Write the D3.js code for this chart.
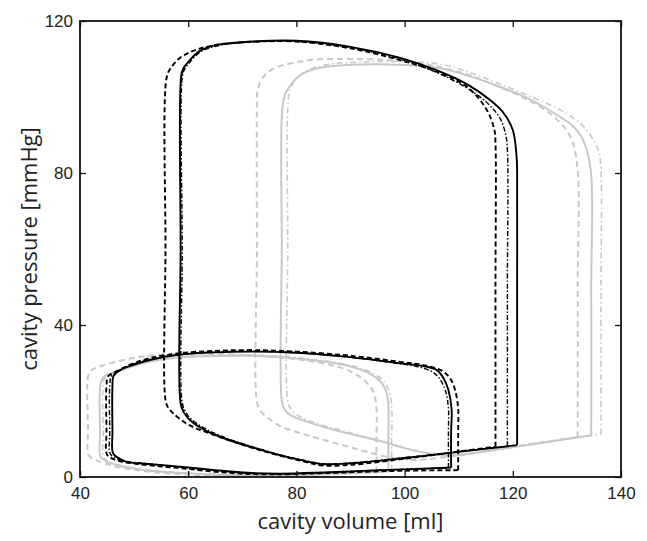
<!DOCTYPE html>
<html>
<head>
<meta charset="utf-8">
<script src="https://cdn.jsdelivr.net/npm/d3@7"></script>
<style>
  body { margin: 0; background: #fff; }
  .tick text { font-family: "Liberation Sans", Arial, sans-serif; font-size: 17px; fill: #222; }
  .title { font-family: "Open Sans", sans-serif; font-size: 22px; fill: #222; }
</style>
</head>
<body>
<svg id="chart" width="647" height="541"></svg>
<script>
// axis ticks
var xTicks = [40, 60, 80, 100, 120, 140];
var yTicks = [0, 40, 80, 120];

// pressure-volume loops, [volume ml, pressure mmHg]
// left ventricle (high pressure)
var lvBlackSolid = [[120.8,8.4],[120.8,50],[120.8,80],[120.7,84.3],[120,91.3],[118.3,95.8],[115.8,99.2],[111.5,103.4],[106,107],[99.2,110.3],[90,113.2],[80,114.8],[72,114.6],[65.3,113.7],[62,112],[60.3,109.7],[59.1,107.5],[58.7,105.5],[58.6,60],[58.6,19.4],[59.2,17],[60.3,15],[63,12.4],[67,10],[71.4,8],[76,6.1],[80.7,4.5],[84.9,3.4],[90,3.6],[100,5],[110,6.6],[120.8,8.4]];
var lvBlackDash = [[116.8,8],[116.8,50],[116.8,88],[116.6,91.3],[115.2,96.6],[111.5,102.7],[106,106.6],[99.2,109.7],[90,112.8],[80,114.6],[73,114.6],[68.3,114.2],[64,113.4],[61,112.2],[58.5,110.3],[56.7,107.5],[56,105],[55.8,60],[55.8,20.3],[56.3,18.2],[57.2,16.8],[60,13.8],[65.3,10.8],[72,7.6],[80.7,4.3],[85,3],[90,3.2],[100,4.8],[110,6.7],[116.8,8]];
var lvBlackDot = [[119,8.1],[119,50],[119,86],[118.7,90],[117.6,94.5],[115,98.8],[111,102.8],[106,106.4],[99.2,109.9],[90,113],[80,114.6],[72,114.5],[65.5,113.5],[62.2,111.8],[60.5,109.5],[59.3,107.2],[58.9,105.2],[58.9,60],[58.9,19.6],[59.5,17.2],[60.6,15.2],[63.3,12.6],[67.3,10.1],[71.6,8.1],[76,6.2],[80.7,4.6],[85,3.5],[90,3.7],[100,5.1],[110,6.7],[119,8.1]];
var lvGraySolid = [[134.5,11],[134.5,50],[134.4,80.8],[133,88.7],[131,92.5],[128.7,94.8],[123,99.5],[117.6,102.7],[112,105.5],[107,107.4],[100,108.4],[90,108.5],[83.7,107.5],[81,106],[79.4,104],[78,101],[77.4,97],[77.3,60],[77.3,20.1],[77.8,17.8],[79,16.2],[82.5,14.3],[88,12],[95.5,9.5],[100,7.6],[104,6.3],[108,5.6],[115,6.8],[125,8.9],[134.5,11]];
var lvGrayDash = [[132,10.5],[132,50],[131.9,82],[130.5,90],[127,95.5],[122,99.8],[116,103.5],[111.5,106],[105,108.3],[98,109.6],[90,110],[83,109.8],[77.6,108.4],[75,106.8],[73.5,104.5],[72.8,101.5],[72.7,97],[72.7,60],[72.7,19.8],[73.3,17.5],[74.8,15.5],[77,13.4],[82,11],[88,8.6],[94.2,6.2],[98,5],[102,4.5],[110,5.7],[120,7.9],[132,10.5]];
var lvGrayDot = [[136.3,11.3],[136.3,50],[136.3,81],[135.9,85.5],[134.9,88.7],[132.5,93],[128.5,96.8],[123.8,99.8],[117,103.8],[112,106.5],[107.1,108.5],[100,109.3],[92,109.2],[86,108.6],[82,107],[80,104.9],[78.8,101.8],[78.4,97],[78.4,60],[78.4,20],[79,17.8],[80.5,16],[84,14],[90,11.6],[97,8.8],[102,7],[107,5.9],[112,6.2],[124,8.8],[136.3,11.3]];
// right ventricle (low pressure)
var rvBlackSolid = [[108.6,2.5],[108.6,12],[108.7,17.6],[108.1,22.9],[107.2,26],[105.9,28.2],[103,29.3],[99.2,29.9],[95.5,30.6],[88,31.8],[80,32.7],[72,33],[65,32.8],[58.5,32.2],[53.5,31],[49.9,29.5],[47.5,28.2],[46.2,26.6],[46,24],[46,12],[46.1,6.3],[47,5.1],[48.6,4],[52,3.5],[57.9,2.8],[65,1.8],[71,1.1],[77,0.9],[85,1.2],[95.5,1.8],[102,2.1],[108.6,2.5]];
var rvBlackDash = [[109.9,1.8],[109.9,12],[109.9,18],[109.4,22.5],[108.5,25.8],[107,27.9],[104,29.3],[99.2,30.3],[90,31.9],[80,33],[72,33.4],[65,33.2],[58.5,32.6],[53,31.3],[49.5,29.7],[47,28],[45.2,26.5],[44.9,24],[44.9,12],[45,5.9],[46.2,4.7],[48.6,3.8],[52,3.2],[58,2.4],[65,1.4],[71,0.8],[77,0.7],[85,1],[95.5,1.5],[102,1.7],[109.9,1.8]];
var rvBlackDot = [[108.1,2.4],[108.1,12],[108.1,18],[107.6,22.5],[106.6,25.6],[105.2,27.6],[102.5,29],[99.2,29.8],[90,31.5],[80,32.7],[72,33.1],[65,32.9],[58.5,32.3],[53.3,31.1],[49.7,29.6],[47.2,28],[45.8,26.5],[45.5,24],[45.5,12],[45.6,6.1],[46.7,4.9],[48.6,4.1],[52,3.6],[58,2.7],[65,1.7],[71,1],[77,0.8],[85,1.1],[95.5,1.8],[102,2.1],[108.1,2.4]];
var rvGraySolid = [[97,1.5],[97,10],[97,19],[96.6,22.5],[95.5,25.2],[93.5,27.3],[90,29.1],[85,30.4],[77,31.6],[70,31.9],[63,31.8],[58.5,31.5],[53.5,30.5],[49.5,29],[46.5,27.5],[44.4,26.4],[43.8,24.5],[43.7,12],[43.8,5.3],[44.8,4.2],[47,3.1],[51.6,1.9],[58,1.1],[65,0.6],[72,0.4],[80,0.5],[88,0.9],[97,1.5]];
var rvGrayDash = [[94.8,1.2],[94.8,10],[94.8,18],[94.2,22.5],[92.5,25.5],[90,27.8],[86,29.6],[80,31],[72,32],[64,32.4],[56,32.3],[50.5,31.5],[46.8,30.4],[43.5,29],[42,28],[41.5,26.5],[41.5,12],[41.6,5.8],[43,4.4],[46,3],[50,1.9],[56,1],[63,0.5],[72,0.3],[80,0.5],[88,0.8],[94.8,1.2]];
var rvGrayDot = [[97.6,1.6],[97.6,10],[97.6,19],[97.1,22.8],[96,25.4],[94,27.4],[90.5,29.2],[85,30.6],[77,31.8],[70,32.1],[63,32],[58.5,31.7],[53.5,30.7],[49.5,29.2],[46.8,27.8],[44.8,26.6],[44.3,24.5],[44.3,12],[44.4,5.1],[45.4,4],[47.5,3],[52,1.9],[58,1.2],[65,0.7],[72,0.5],[80,0.6],[88,1],[97.6,1.6]];

var grayColor = "#c8c8c8";
var blackColor = "#000";

var loops = [
	{pts: lvGraySolid, color: grayColor, dash: null, w: 2},
	{pts: lvGrayDash, color: grayColor, dash: "6,4", w: 2},
	{pts: lvGrayDot, color: grayColor, dash: "6,3,1.5,3", w: 1.6},
	{pts: rvGraySolid, color: grayColor, dash: null, w: 2},
	{pts: rvGrayDash, color: grayColor, dash: "6,4", w: 2},
	{pts: rvGrayDot, color: grayColor, dash: "6,3,1.5,3", w: 1.6},
	{pts: lvBlackDot, color: blackColor, dash: "5,2,1.5,2", w: 1.4},
	{pts: lvBlackDash, color: blackColor, dash: "5,3", w: 1.9},
	{pts: lvBlackSolid, color: blackColor, dash: null, w: 1.9},
	{pts: rvBlackDot, color: blackColor, dash: "5,2,1.5,2", w: 1.4},
	{pts: rvBlackDash, color: blackColor, dash: "5,3", w: 1.9},
	{pts: rvBlackSolid, color: blackColor, dash: null, w: 1.9}
];

var plotLeft = 80, plotTop = 21, plotRight = 621, plotBottom = 477;
var svg = d3.select("#chart");

var x = d3.scaleLinear().domain([40, 140]).range([plotLeft, plotRight]);
var y = d3.scaleLinear().domain([0, 120]).range([plotBottom, plotTop]);

var line = d3.line()
	.x(function(d) { return x(d[0]); })
	.y(function(d) { return y(d[1]); })
	.curve(d3.curveCatmullRom.alpha(0.5));

svg.append("g").attr("class", "loops")
	.selectAll("path")
	.data(loops)
	.enter().append("path")
	.attr("d", function(d) { return line(d.pts); })
	.style("fill", "none")
	.style("stroke", function(d) { return d.color; })
	.style("stroke-width", function(d) { return d.w; })
	.style("stroke-dasharray", function(d) { return d.dash; })
	.style("stroke-linejoin", "round");

/* ------- AXES -------*/
var tickLen = 6;

svg.append("g")
	.attr("transform", "translate(0," + plotBottom + ")")
	.call(d3.axisBottom(x).tickValues(xTicks).tickSize(-tickLen).tickPadding(10))
	.call(function(g) { g.select(".domain").remove(); });

svg.append("g")
	.attr("transform", "translate(0," + plotTop + ")")
	.call(d3.axisTop(x).tickValues(xTicks).tickSize(-tickLen).tickFormat(""))
	.call(function(g) { g.select(".domain").remove(); });

svg.append("g")
	.attr("transform", "translate(" + plotLeft + ",0)")
	.call(d3.axisLeft(y).tickValues(yTicks).tickSize(-tickLen).tickPadding(7))
	.call(function(g) { g.select(".domain").remove(); });

svg.append("g")
	.attr("transform", "translate(" + plotRight + ",0)")
	.call(d3.axisRight(y).tickValues(yTicks).tickSize(-tickLen).tickFormat(""))
	.call(function(g) { g.select(".domain").remove(); });

svg.selectAll(".tick line").style("stroke", "#111").style("stroke-width", 1.3);

svg.append("rect")
	.attr("x", plotLeft).attr("y", plotTop)
	.attr("width", plotRight - plotLeft).attr("height", plotBottom - plotTop)
	.style("fill", "none")
	.style("stroke", "#111")
	.style("stroke-width", 1.8);

svg.append("text")
	.attr("class", "title")
	.attr("x", (plotLeft + plotRight) / 2)
	.attr("y", 529)
	.attr("text-anchor", "middle")
	.text("cavity volume [ml]");

svg.append("text")
	.attr("class", "title")
	.attr("transform", "translate(37," + ((plotTop + plotBottom) / 2) + ") rotate(-90)")
	.attr("text-anchor", "middle")
	.text("cavity pressure [mmHg]");
</script>
</body>
</html>
